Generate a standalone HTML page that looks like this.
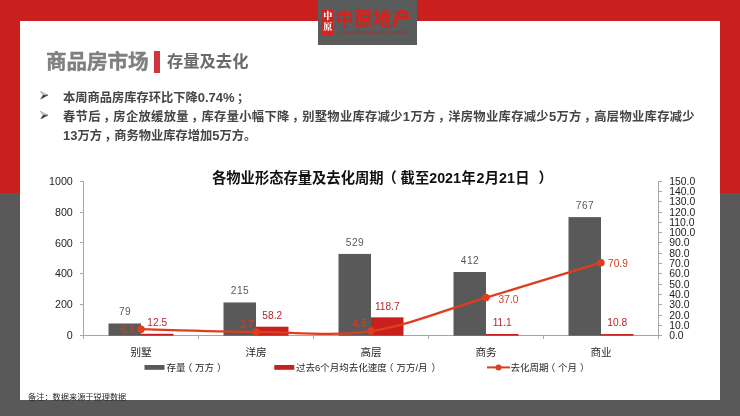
<!DOCTYPE html>
<html lang="zh-CN">
<head>
<meta charset="utf-8">
<title>商品房市场 存量及去化</title>
<style>
html,body{margin:0;padding:0;}
body{width:740px;height:416px;position:relative;overflow:hidden;background:#595959;font-family:"Liberation Sans","Noto Sans CJK SC",sans-serif;}
.top{position:absolute;left:0;top:0;width:740px;height:193px;background:#C9201D;}
.panel{position:absolute;left:20px;top:21px;width:700px;height:379px;background:#fff;}
.logo{position:absolute;left:318px;top:0;width:99px;height:44.6px;background:#5A5B5B;}
.seal{position:absolute;left:4.3px;top:9.8px;width:10.7px;height:25.4px;background:#D2231F;color:#fff;font-family:"Liberation Serif","Noto Serif CJK SC",serif;font-weight:900;font-size:9px;line-height:11.4px;text-align:center;padding-top:1.2px;box-sizing:border-box;}
.seal span{display:block;margin-left:-1px;width:12.7px;}
.brand{position:absolute;left:17.6px;top:8.4px;color:#D2231F;font-family:"Liberation Sans","Noto Sans CJK SC",sans-serif;font-weight:900;font-size:17.8px;line-height:24px;letter-spacing:1.15px;white-space:nowrap;transform:scaleY(1.08);transform-origin:50% 50%;}
.brand2{position:absolute;left:19.2px;top:28.8px;width:72px;height:6px;}
.h1{position:absolute;left:45.6px;top:47px;font-size:20.6px;line-height:30px;font-weight:700;-webkit-text-stroke:0.4px #7F7F7F;color:#7F7F7F;white-space:nowrap;letter-spacing:-0.1px;}
.bar{position:absolute;left:154.2px;top:50.8px;width:6.1px;height:22.6px;background:#D0343F;}
.h2{position:absolute;left:167.2px;top:47px;font-size:16.3px;line-height:29px;font-weight:700;color:#6A6A6A;white-space:nowrap;}
.txt{position:absolute;left:62.6px;top:88.5px;width:631.5px;font-size:12.25px;line-height:19.1px;font-weight:700;color:#454545;text-align:justify;margin:0;}
.txt p{margin:0;white-space:nowrap;}
.txt i{font-style:normal;position:relative;left:0.2em;}
.txt b{font-weight:700;font-size:13px;line-height:1px;}
.txt p.j{text-align:justify;text-align-last:justify;white-space:normal;}
.arr{position:absolute;left:40px;}
.note{position:absolute;left:28px;top:392.4px;font-size:8.2px;line-height:12px;color:#262626;white-space:nowrap;}
svg.chart{position:absolute;left:0;top:0;}
.h1,.h2,.txt,.note,svg.chart,.logo{will-change:transform;}
svg.chart text{font-family:"Liberation Sans","Noto Sans CJK SC",sans-serif;}
</style>
</head>
<body>
<div class="top"></div>
<div class="panel"></div>
<div class="logo">
  <div class="seal"><span>中</span><span>原</span></div>
  <div class="brand">中原地产</div>
  <svg class="brand2" viewBox="0 0 72 6"><text x="0" y="4.8" font-size="3.9" font-weight="700" fill="#C4221F" fill-opacity="0.7" textLength="71.5" lengthAdjust="spacingAndGlyphs" font-family="Liberation Sans, sans-serif">CENTALINE PROPERTY AGENCY</text></svg>
</div>
<div class="h1">商品房市场</div>
<div class="bar"></div>
<div class="h2">存量及去化</div>
<div class="txt">
<p>本周商品房库存环比下降<b>0.74%</b><i>；</i></p>
<p class="j">春节后<i>，</i>房企放缓放量<i>，</i>库存量小幅下降<i>，</i>别墅物业库存减少<b>1</b>万方<i>，</i>洋房物业库存减少<b>5</b>万方<i>，</i>高层物业库存减少</p>
<p><b>13</b>万方<i>，</i>商务物业库存增加<b>5</b>万方。</p>
</div>
<span style="position:absolute;left:0;top:0"><svg class="arr" style="top:91.3px" viewBox="0 0 8 8.4" width="8" height="8.4"><path d="M0.4,0.3 L7.8,4.2 L3,4.2 Z" fill="#d9d9d9" stroke="#8a8a8a" stroke-width="0.55" stroke-linejoin="round"/><path d="M3,4.2 L7.8,4.2 L0.6,8.2 Z" fill="#3a3a3a" stroke="#3a3a3a" stroke-width="0.4" stroke-linejoin="round"/></svg><svg class="arr" style="top:110.5px" viewBox="0 0 8 8.4" width="8" height="8.4"><path d="M0.4,0.3 L7.8,4.2 L3,4.2 Z" fill="#d9d9d9" stroke="#8a8a8a" stroke-width="0.55" stroke-linejoin="round"/><path d="M3,4.2 L7.8,4.2 L0.6,8.2 Z" fill="#3a3a3a" stroke="#3a3a3a" stroke-width="0.4" stroke-linejoin="round"/></svg></span>
<svg class="chart" width="740" height="416" viewBox="0 0 740 416">
<g stroke="#A6A6A6" stroke-width="1" fill="none" shape-rendering="crispEdges">
<line x1="83.5" y1="181.1" x2="83.5" y2="335.7"/>
<line x1="658.5" y1="181.1" x2="658.5" y2="335.7"/>
<line x1="83.5" y1="335.7" x2="658.5" y2="335.7"/>
<line x1="80.0" y1="335.70" x2="83.5" y2="335.70"/>
<line x1="80.0" y1="304.78" x2="83.5" y2="304.78"/>
<line x1="80.0" y1="273.86" x2="83.5" y2="273.86"/>
<line x1="80.0" y1="242.94" x2="83.5" y2="242.94"/>
<line x1="80.0" y1="212.02" x2="83.5" y2="212.02"/>
<line x1="80.0" y1="181.10" x2="83.5" y2="181.10"/>
<line x1="658.5" y1="335.70" x2="662.0" y2="335.70"/>
<line x1="658.5" y1="325.39" x2="662.0" y2="325.39"/>
<line x1="658.5" y1="315.09" x2="662.0" y2="315.09"/>
<line x1="658.5" y1="304.78" x2="662.0" y2="304.78"/>
<line x1="658.5" y1="294.47" x2="662.0" y2="294.47"/>
<line x1="658.5" y1="284.17" x2="662.0" y2="284.17"/>
<line x1="658.5" y1="273.86" x2="662.0" y2="273.86"/>
<line x1="658.5" y1="263.55" x2="662.0" y2="263.55"/>
<line x1="658.5" y1="253.25" x2="662.0" y2="253.25"/>
<line x1="658.5" y1="242.94" x2="662.0" y2="242.94"/>
<line x1="658.5" y1="232.63" x2="662.0" y2="232.63"/>
<line x1="658.5" y1="222.33" x2="662.0" y2="222.33"/>
<line x1="658.5" y1="212.02" x2="662.0" y2="212.02"/>
<line x1="658.5" y1="201.71" x2="662.0" y2="201.71"/>
<line x1="658.5" y1="191.41" x2="662.0" y2="191.41"/>
<line x1="658.5" y1="181.10" x2="662.0" y2="181.10"/>
<line x1="83.50" y1="335.7" x2="83.50" y2="339.2"/>
<line x1="198.50" y1="335.7" x2="198.50" y2="339.2"/>
<line x1="313.50" y1="335.7" x2="313.50" y2="339.2"/>
<line x1="428.50" y1="335.7" x2="428.50" y2="339.2"/>
<line x1="543.50" y1="335.7" x2="543.50" y2="339.2"/>
<line x1="658.50" y1="335.7" x2="658.50" y2="339.2"/>
</g>
<rect x="108.50" y="323.49" width="32.5" height="12.21" fill="#595959"/>
<rect x="141.00" y="333.77" width="32.5" height="1.93" fill="#C9201D"/>
<rect x="223.50" y="302.46" width="32.5" height="33.24" fill="#595959"/>
<rect x="256.00" y="326.70" width="32.5" height="9.00" fill="#C9201D"/>
<rect x="338.50" y="253.92" width="32.5" height="81.78" fill="#595959"/>
<rect x="371.00" y="317.35" width="32.5" height="18.35" fill="#C9201D"/>
<rect x="453.50" y="272.00" width="32.5" height="63.70" fill="#595959"/>
<rect x="486.00" y="333.98" width="32.5" height="1.72" fill="#C9201D"/>
<rect x="568.50" y="217.12" width="32.5" height="118.58" fill="#595959"/>
<rect x="601.00" y="334.03" width="32.5" height="1.67" fill="#C9201D"/>
<path d="M141.00,329.21 C160.17,329.65 217.67,331.58 256.00,331.89 C294.33,332.20 332.67,336.78 371.00,331.06 C409.33,325.34 447.67,308.97 486.00,297.57 C524.33,286.16 581.83,268.45 601.00,262.63" fill="none" stroke="#DF3D1E" stroke-width="2.3" stroke-linecap="round" stroke-linejoin="round"/>
<circle cx="141.00" cy="329.21" r="3.7" fill="#DF3D1E"/>
<circle cx="256.00" cy="331.89" r="3.7" fill="#DF3D1E"/>
<circle cx="371.00" cy="331.06" r="3.7" fill="#DF3D1E"/>
<circle cx="486.00" cy="297.57" r="3.7" fill="#DF3D1E"/>
<circle cx="601.00" cy="262.63" r="3.7" fill="#DF3D1E"/>
<text x="72.80" y="339.33" font-size="10.7" fill="#262626" text-anchor="end">0</text>
<text x="72.80" y="308.41" font-size="10.7" fill="#262626" text-anchor="end">200</text>
<text x="72.80" y="277.49" font-size="10.7" fill="#262626" text-anchor="end">400</text>
<text x="72.80" y="246.57" font-size="10.7" fill="#262626" text-anchor="end">600</text>
<text x="72.80" y="215.65" font-size="10.7" fill="#262626" text-anchor="end">800</text>
<text x="72.80" y="184.73" font-size="10.7" fill="#262626" text-anchor="end">1000</text>
<text x="669.20" y="339.22" font-size="10.4" fill="#1c1c1c" text-anchor="start">0.0</text>
<text x="669.20" y="328.92" font-size="10.4" fill="#1c1c1c" text-anchor="start">10.0</text>
<text x="669.20" y="318.61" font-size="10.4" fill="#1c1c1c" text-anchor="start">20.0</text>
<text x="669.20" y="308.30" font-size="10.4" fill="#1c1c1c" text-anchor="start">30.0</text>
<text x="669.20" y="298.00" font-size="10.4" fill="#1c1c1c" text-anchor="start">40.0</text>
<text x="669.20" y="287.69" font-size="10.4" fill="#1c1c1c" text-anchor="start">50.0</text>
<text x="669.20" y="277.38" font-size="10.4" fill="#1c1c1c" text-anchor="start">60.0</text>
<text x="669.20" y="267.08" font-size="10.4" fill="#1c1c1c" text-anchor="start">70.0</text>
<text x="669.20" y="256.77" font-size="10.4" fill="#1c1c1c" text-anchor="start">80.0</text>
<text x="669.20" y="246.46" font-size="10.4" fill="#1c1c1c" text-anchor="start">90.0</text>
<text x="669.20" y="236.16" font-size="10.4" fill="#1c1c1c" text-anchor="start">100.0</text>
<text x="669.20" y="225.85" font-size="10.4" fill="#1c1c1c" text-anchor="start">110.0</text>
<text x="669.20" y="215.54" font-size="10.4" fill="#1c1c1c" text-anchor="start">120.0</text>
<text x="669.20" y="205.24" font-size="10.4" fill="#1c1c1c" text-anchor="start">130.0</text>
<text x="669.20" y="194.93" font-size="10.4" fill="#1c1c1c" text-anchor="start">140.0</text>
<text x="669.20" y="184.62" font-size="10.4" fill="#1c1c1c" text-anchor="start">150.0</text>
<text x="124.95" y="315.44" font-size="10.2" fill="#595959" text-anchor="middle" letter-spacing="0.4">79</text>
<text x="157.25" y="326.02" font-size="10.2" fill="#B5262B" text-anchor="middle">12.5</text>
<text x="239.95" y="294.41" font-size="10.2" fill="#595959" text-anchor="middle" letter-spacing="0.4">215</text>
<text x="272.25" y="318.95" font-size="10.2" fill="#B5262B" text-anchor="middle">58.2</text>
<text x="354.95" y="245.87" font-size="10.2" fill="#595959" text-anchor="middle" letter-spacing="0.4">529</text>
<text x="387.25" y="309.60" font-size="10.2" fill="#B5262B" text-anchor="middle">118.7</text>
<text x="469.95" y="263.96" font-size="10.2" fill="#595959" text-anchor="middle" letter-spacing="0.4">412</text>
<text x="502.25" y="326.24" font-size="10.2" fill="#B5262B" text-anchor="middle">11.1</text>
<text x="584.95" y="209.07" font-size="10.2" fill="#595959" text-anchor="middle" letter-spacing="0.4">767</text>
<text x="617.25" y="326.28" font-size="10.2" fill="#B5262B" text-anchor="middle">10.8</text>
<text x="127.80" y="332.95" font-size="10.2" fill="#D5401F" text-anchor="middle">6.3</text>
<text x="246.80" y="327.95" font-size="10.2" fill="#D5401F" text-anchor="middle">3.7</text>
<text x="359.60" y="327.05" font-size="10.2" fill="#D5401F" text-anchor="middle">4.5</text>
<text x="508.50" y="303.25" font-size="10.2" fill="#D5401F" text-anchor="middle">37.0</text>
<text x="617.90" y="266.85" font-size="10.2" fill="#D5401F" text-anchor="middle">70.9</text>
<text x="141.00" y="355.6" font-size="10.6" fill="#262626" text-anchor="middle">别墅</text>
<text x="256.00" y="355.6" font-size="10.6" fill="#262626" text-anchor="middle">洋房</text>
<text x="371.00" y="355.6" font-size="10.6" fill="#262626" text-anchor="middle">高层</text>
<text x="486.00" y="355.6" font-size="10.6" fill="#262626" text-anchor="middle">商务</text>
<text x="601.00" y="355.6" font-size="10.6" fill="#262626" text-anchor="middle">商业</text>
<text y="183.4" font-size="14.3" font-weight="700" fill="#111" class="ttl"><tspan x="212">各物业形态存量及去化周期</tspan><tspan x="382.6">（</tspan><tspan x="400.6">截至</tspan><tspan x="429.2">2021</tspan><tspan x="461.6">年</tspan><tspan x="476.5">2</tspan><tspan x="484.8">月</tspan><tspan x="499">21</tspan><tspan x="515.3">日</tspan><tspan x="538.6">）</tspan></text>
<rect x="144.5" y="365" width="20" height="4.8" fill="#595959"/>
<text y="370.6" font-size="9.5" fill="#262626"><tspan x="166.5">存量</tspan><tspan x="182.7">（</tspan><tspan x="195">万方</tspan><tspan x="216.9">）</tspan></text>
<rect x="274.3" y="365" width="20" height="4.8" fill="#C9201D"/>
<text y="370.6" font-size="9.5" fill="#262626"><tspan x="296">过去6个月均去化速度</tspan><tspan x="384.1">（</tspan><tspan x="396.4">万方/月</tspan><tspan x="431.6">）</tspan></text>
<line x1="487" y1="367.4" x2="510" y2="367.4" stroke="#DF3D1E" stroke-width="2"/>
<circle cx="498.5" cy="367.4" r="3" fill="#DF3D1E"/>
<text y="370.6" font-size="9.5" fill="#262626"><tspan x="510.5">去化周期</tspan><tspan x="545.7">（</tspan><tspan x="558">个月</tspan><tspan x="579.9">）</tspan></text>
</svg>
<div class="note">备注：数据来源于锐理数据</div>
</body>
</html>
